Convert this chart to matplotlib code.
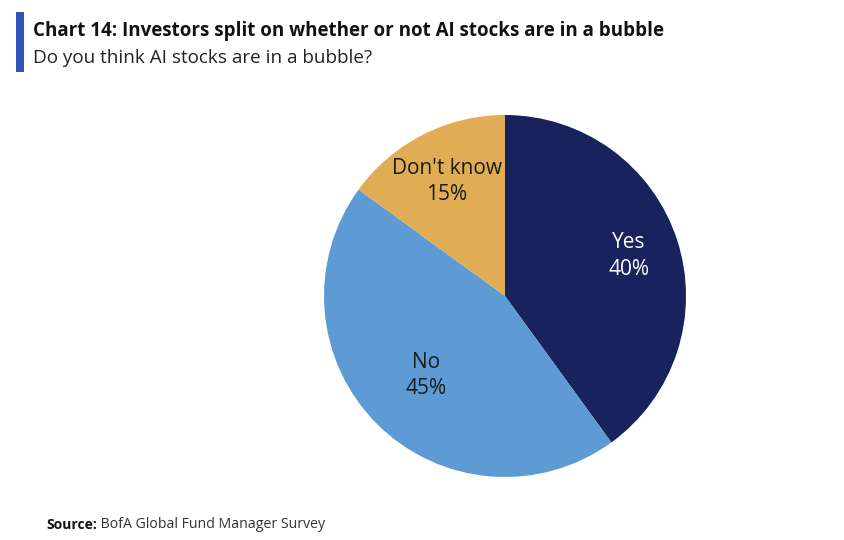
import matplotlib
matplotlib.use("Agg")
import matplotlib.pyplot as plt
import numpy as np
from matplotlib.patches import Rectangle

categories = ["Yes", "No", "Don't know"]
values = [40, 45, 15]
colors = ["#18235e", "#5e9ad3", "#e1ad54"]
text_colors = ["white", "#1a1a1a", "#1a1a1a"]
label_r = [0.72, 0.62, 0.71]

title = "Chart 14: Investors split on whether or not AI stocks are in a bubble"
subtitle = "Do you think AI stocks are in a bubble?"
source_bold = "Source:"
source_rest = " BofA Global Fund Manager Survey"

plt.rcParams['font.family'] = ['Open Sans', 'DejaVu Sans']

W, H = 845, 540
fig = plt.figure(figsize=(W / 100, H / 100), dpi=100)
fig.patch.set_facecolor("white")

cx, cy, r = 505, 296, 181
ax = fig.add_axes([(cx - r) / W, (H - cy - r) / H, 2 * r / W, 2 * r / H])
wedges, _ = ax.pie(values, colors=colors, startangle=90, counterclock=False,
                   wedgeprops=dict(linewidth=0))
ax.set_xlim(-1, 1)
ax.set_ylim(-1, 1)
ax.set_aspect("equal")
ax.axis("off")

for w, cat, v, tc, lr in zip(wedges, categories, values, text_colors, label_r):
    mid = np.deg2rad((w.theta1 + w.theta2) / 2)
    ax.text(lr * np.cos(mid), lr * np.sin(mid), f"{cat}\n{v}%", ha="center", va="center",
            color=tc, fontsize=15, linespacing=1.35)

fig.patches.append(Rectangle((16 / W, 1 - 72 / H), 8 / W, 60 / H, transform=fig.transFigure,
                             facecolor="#2f55b8", edgecolor="none"))
fig.text(33 / W, 1 - 31 / H, title, fontsize=13.5, fontweight="bold", color="#111111",
         va="center", ha="left")
fig.text(33 / W, 1 - 58 / H, subtitle, fontsize=13.6, color="#222222", va="center", ha="left")

t = fig.text(46 / W, 1 - 525 / H, source_bold, fontsize=10, fontweight="bold", color="#111111",
             va="center", ha="left")
fig.canvas.draw()
bb = t.get_window_extent()
fig.text(bb.x1 / W, 1 - 525 / H, source_rest, fontsize=10.2, color="#333333", va="center", ha="left")

fig.savefig("out.png", dpi=100, facecolor="white")
